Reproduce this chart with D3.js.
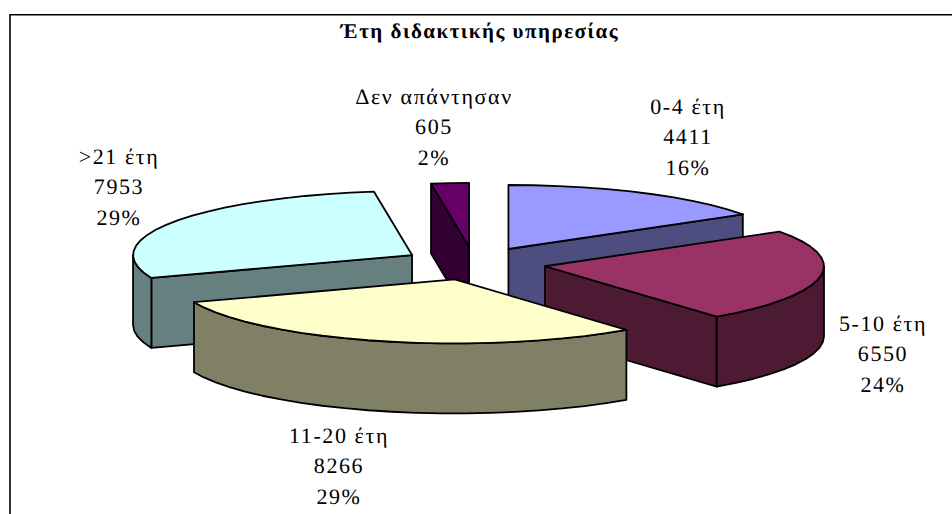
<!DOCTYPE html>
<html>
<head>
<meta charset="utf-8">
<script src="https://cdn.jsdelivr.net/npm/d3@7"></script>
<style>
  html, body { margin: 0; padding: 0; background: #fff; }
  svg { display: block; }
  text { font-family: "Liberation Serif", serif; fill: #000; text-rendering: geometricPrecision; }
</style>
</head>
<body>
<div id="chart"></div>
<script>
// chart data
var categories = ["0-4 έτη", "5-10 έτη", "11-20 έτη", ">21 έτη", "Δεν απάντησαν"];
var counts = [4411, 6550, 8266, 7953, 605];
var percentLabels = ["16%", "24%", "29%", "29%", "2%"];
var chartTitle = "Έτη διδακτικής υπηρεσίας";

// styles and placement are kept apart from the data
var topColors = ["#9999ff", "#993366", "#ffffcc", "#ccffff", "#660066"];
var wallColors = ["#4d4d80", "#4d1a33", "#808066", "#668080", "#330033"];
var labelCenters = [[688, 114], [883, 331], [339, 443], [119, 164], [434, 104]];
var drawOrder = [4, 0, 3, 1, 2];

var svgWidth = 952;
var svgHeight = 514;
var cx = 474, cy = 263.5;
var radiusX = 279, radiusY = 64;
var depth = 70;
var explode = 72;
var lineHeight = 30.3;

var svg = d3.select("#chart")
  .append("svg")
  .attr("width", svgWidth)
  .attr("height", svgHeight);

// frame, only top and left show in the picture
svg.append("path")
  .attr("d", `M10,${svgHeight} V14.7 H${svgWidth}`)
  .attr("fill", "none")
  .attr("stroke", "#000")
  .attr("stroke-width", 1.6);

svg.append("text")
  .attr("x", 480)
  .attr("y", 38)
  .attr("text-anchor", "middle")
  .attr("font-size", 21)
  .attr("font-weight", "bold")
  .attr("letter-spacing", 1.5)
  .text(chartTitle);

var pie = d3.pie().sort(null);
var slices = pie(counts);

// tilted pie: clockwise from 12 o'clock, squashed vertically
var xScale = d3.scaleLinear().domain([-1, 1]).range([-radiusX, radiusX]);
var yScale = d3.scaleLinear().domain([-1, 1]).range([radiusY, -radiusY]);
var line = d3.line();

function rimPoint(apex, a, drop) {
  return [apex[0] + xScale(Math.sin(a)), apex[1] + yScale(Math.cos(a)) + drop];
}

function rimAngles(a0, a1) {
  var step = 5 * Math.PI / 180;
  var n = Math.max(1, Math.round((a1 - a0) / step));
  return d3.range(n + 1).map(i => a0 + (a1 - a0) * i / n);
}

function closed(points) {
  return line(points) + "Z";
}

drawOrder.forEach(function(i) {
  var s = slices[i];
  var mid = (s.startAngle + s.endAngle) / 2;
  var apex = [
    cx + explode * Math.sin(mid),
    cy + yScale(Math.cos(mid)) * explode / radiusX
  ];
  var g = svg.append("g")
    .attr("stroke", "#000")
    .attr("stroke-width", 1.8)
    .attr("stroke-linejoin", "round");

  // faces that look towards the viewer
  function wall(points) {
    var back = points.slice().reverse().map(p => [p[0], p[1] + depth]);
    g.append("path").attr("d", closed(points.concat(back))).attr("fill", wallColors[i]);
  }

  if (Math.sin(s.startAngle) < 0) {
    wall([apex, rimPoint(apex, s.startAngle, 0)]);
  }
  if (Math.sin(s.endAngle) > 0.001) {
    wall([apex, rimPoint(apex, s.endAngle, 0)]);
  }

  // outer rim, only the part on the near half of the ellipse
  var from = Math.max(s.startAngle, Math.PI / 2);
  var to = Math.min(s.endAngle, Math.PI * 1.5);
  if (to > from) {
    wall(rimAngles(from, to).map(a => rimPoint(apex, a, 0)));
  }

  var top = [apex].concat(rimAngles(s.startAngle, s.endAngle).map(a => rimPoint(apex, a, 0)));
  g.append("path").attr("d", closed(top)).attr("fill", topColors[i]);
});

// data labels, three centred lines each
categories.forEach(function(name, i) {
  var t = svg.append("text")
    .attr("text-anchor", "middle")
    .attr("font-size", 22)
    .attr("letter-spacing", 1.6);
  [name, counts[i], percentLabels[i]].forEach(function(row, r) {
    t.append("tspan")
      .attr("x", labelCenters[i][0])
      .attr("y", labelCenters[i][1] + r * lineHeight)
      .text(row);
  });
});
</script>
</body>
</html>
